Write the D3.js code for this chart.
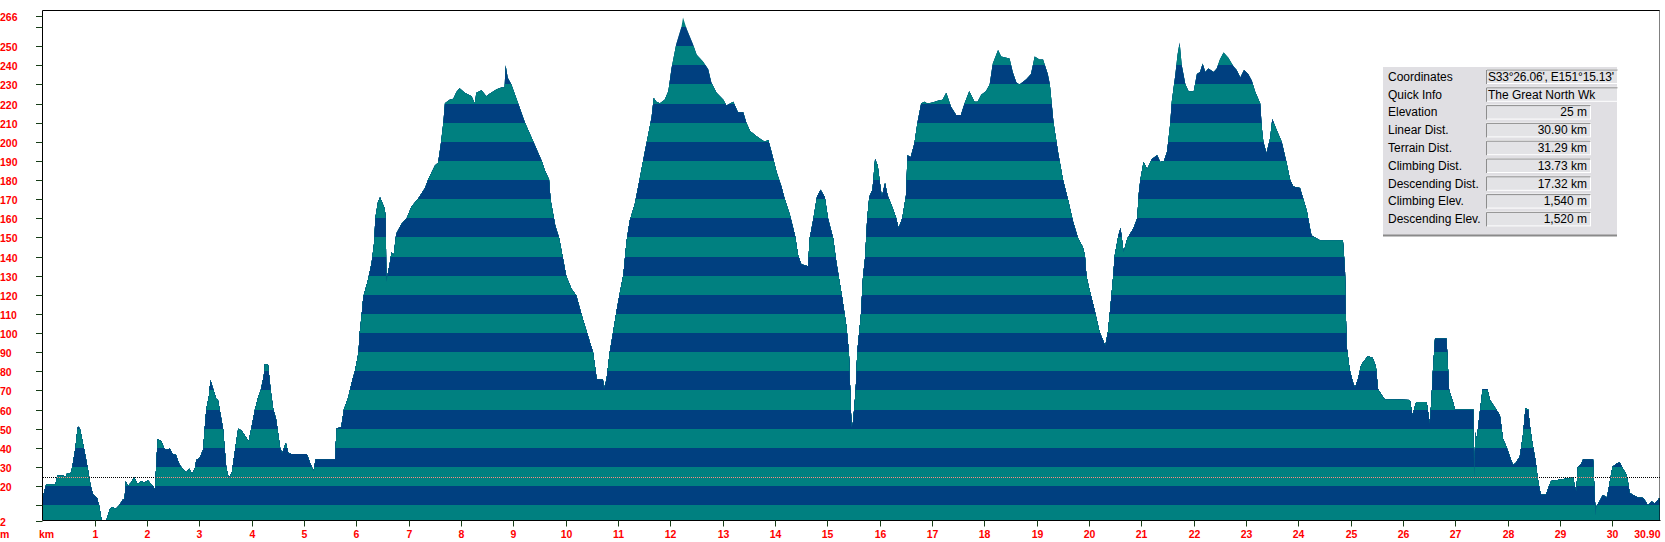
<!DOCTYPE html>
<html>
<head>
<meta charset="utf-8">
<script src="https://cdn.jsdelivr.net/npm/d3@7"></script>
<style>
body { margin: 0; background: #fff; }
svg { display: block; }
.tick-label { font-family: Arial, "Liberation Sans", sans-serif; font-weight: bold; font-size: 10.5px; fill: #ff0000; }
.info text { font-family: "Liberation Sans Narrow", "Arial Narrow", Arial, sans-serif; font-size: 12px; fill: #000; }
</style>
</head>
<body>
<div id="graphic"></div>
<script>
// =========================================
// elevation profile, striped by 10 m bands
// =========================================

// distance along track (km)
var dist = [
	0, 0.01, 0.06, 0.09, 0.25, 0.28, 0.41, 0.44, 0.47, 0.54, 0.57, 0.63, 0.67, 0.69, 0.72, 0.79, 0.86, 0.92, 0.97,
	1.04, 1.08, 1.13, 1.22, 1.29, 1.34, 1.40, 1.47, 1.53, 1.57, 1.59, 1.63, 1.69, 1.75, 1.82, 1.88, 1.95,
	2.01, 2.11, 2.15, 2.20, 2.27, 2.32, 2.36, 2.43, 2.49, 2.55, 2.62, 2.68, 2.75, 2.81, 2.86, 2.91, 2.94,
	3.00, 3.07, 3.10, 3.13, 3.18, 3.21, 3.27, 3.32, 3.35, 3.45, 3.48, 3.51, 3.56, 3.62, 3.67, 3.74, 3.80, 3.87, 3.94, 3.99,
	4.06, 4.12, 4.17, 4.23, 4.25, 4.31, 4.36, 4.41, 4.46, 4.49, 4.54, 4.58, 4.65, 4.70, 4.76,
	5.05, 5.12, 5.18, 5.22, 5.59, 5.62, 5.71, 5.76, 5.84, 5.92, 5.97,
	6.04, 6.06, 6.10, 6.13, 6.22, 6.29, 6.34, 6.36, 6.41, 6.45, 6.54, 6.56, 6.57, 6.64, 6.67, 6.71, 6.76, 6.86, 6.96,
	7.05, 7.18, 7.31, 7.37, 7.50, 7.56, 7.61, 7.66, 7.69, 7.78, 7.85, 7.91, 7.97,
	8.07, 8.20, 8.26, 8.29, 8.39, 8.48, 8.55, 8.68, 8.77, 8.83, 8.85, 8.89, 8.96,
	9.09, 9.22, 9.38, 9.54, 9.60, 9.68, 9.71, 9.80, 9.87,
	10.01, 10.11, 10.20, 10.30, 10.36, 10.43, 10.52, 10.57, 10.59, 10.71, 10.73, 10.78, 10.84, 10.90, 10.97,
	11.03, 11.10, 11.16, 11.22, 11.32, 11.41, 11.51, 11.57, 11.64, 11.68, 11.73, 11.80, 11.89, 11.96,
	12.02, 12.11, 12.21, 12.24, 12.31, 12.43, 12.50, 12.62, 12.72, 12.78, 12.88,
	13.01, 13.07, 13.20, 13.29, 13.39, 13.45, 13.52, 13.64, 13.80, 13.87, 13.93,
	14.03, 14.12, 14.18, 14.28, 14.38, 14.44, 14.50, 14.63, 14.66, 14.73, 14.80, 14.87, 14.95,
	15.01, 15.11, 15.17, 15.27, 15.36, 15.41, 15.46, 15.49, 15.54, 15.57, 15.64, 15.68, 15.72, 15.76, 15.80, 15.86, 15.91, 15.96,
	16.02, 16.04, 16.10, 16.15, 16.24, 16.31, 16.36, 16.43, 16.50, 16.53, 16.59, 16.66, 16.72, 16.79, 16.85, 16.91,
	17.01, 17.11, 17.20, 17.27, 17.36, 17.46, 17.55, 17.62, 17.71, 17.81, 17.87, 17.94,
	18.03, 18.10, 18.16, 18.26, 18.32, 18.48, 18.54, 18.61, 18.67, 18.80, 18.89, 18.96,
	19.05, 19.12, 19.21, 19.25, 19.32, 19.41, 19.50, 19.60, 19.69, 19.79, 19.88, 19.92, 19.95,
	20.01, 20.08, 20.14, 20.20, 20.27, 20.31, 20.36, 20.40, 20.46, 20.49, 20.56, 20.60, 20.66, 20.73, 20.85, 20.92, 20.95, 20.98,
	21.04, 21.11, 21.20, 21.30, 21.36, 21.43, 21.49, 21.55, 21.58, 21.65, 21.69, 21.73, 21.77, 21.84, 21.90,
	22.00, 22.06, 22.12, 22.17, 22.22, 22.28, 22.38, 22.44, 22.50, 22.57, 22.66, 22.76, 22.82, 22.89, 22.96,
	23.04, 23.11, 23.17, 23.27, 23.30, 23.33, 23.39, 23.46, 23.50, 23.58, 23.68, 23.77, 23.84, 23.90,
	24.03, 24.09, 24.16, 24.22, 24.25, 24.35, 24.41, 24.85, 24.89, 24.92, 24.98,
	25.04, 25.08, 25.14, 25.20, 25.33, 25.42, 25.48, 25.52, 25.58, 25.65,
	26.13, 26.18, 26.25, 26.45, 26.51, 26.54, 26.57, 26.61, 26.83, 26.88, 26.96, 26.99,
	27.34, 27.36, 27.38, 27.41, 27.46, 27.52, 27.61, 27.66, 27.72, 27.78, 27.85, 27.91, 27.97,
	28.04, 28.10, 28.15, 28.23, 28.29, 28.34, 28.39, 28.43, 28.48, 28.53, 28.57, 28.61, 28.64, 28.73, 28.79, 28.83,
	29.25, 29.28, 29.31, 29.34, 29.41, 29.44, 29.63, 29.68, 29.69, 29.75, 29.82, 29.89, 29.92,
	30.00, 30.08, 30.14, 30.20, 30.27, 30.30, 30.33, 30.39, 30.49, 30.59, 30.68, 30.75, 30.81, 30.90
];

// elevation (m) at each distance
var elev = [
	5, 14.6, 20, 21, 21, 25.4, 25.4, 24.5, 26.7, 26.7, 30, 40, 50.4, 51, 49.5, 40, 30, 20, 15.5,
	14, 10, 2, 2, 8, 9, 8, 10, 12.7, 13.5, 22.4, 20, 21.8, 24.5, 20.9, 22.7, 21.8,
	23, 20, 18.2, 44.5, 43.5, 40, 39, 39.5, 36.8, 36.3, 31, 29, 27.2, 29, 26.3, 29, 33.6,
	34.5, 39, 50, 60, 67, 75.3, 70, 65.5, 65.5, 50, 40, 30, 24, 27.2, 37, 50, 49, 46.3, 43.5, 50,
	60, 66.3, 70, 78, 83.8, 83.5, 70, 60, 55.5, 50, 40, 37, 42.6, 37, 36.8,
	36.8, 31.7, 27.8, 34, 34, 50, 51, 60, 66, 75.3, 80,
	90, 99.7, 109.7, 118.8, 127.8, 136.8, 147.7, 160, 168.4, 171, 165, 160, 126.9, 137, 142.3, 140.5, 152, 157, 160,
	166, 170.4, 175.8, 180.3, 187.6, 189, 198.4, 210, 220.2, 222, 222.5, 226, 228,
	225.6, 223.8, 220, 225.6, 227, 223.8, 225.3, 227.5, 228.4, 228.4, 240, 233.5, 230,
	220, 210, 200, 190, 185, 180.3, 169.5, 156, 150,
	129.6, 123, 119.6, 109.7, 104.2, 97.9, 90, 80, 76, 75.6, 70.7, 76, 90, 99.7, 111.5,
	120.5, 130.5, 147.7, 158.6, 167.6, 180.3, 194.8, 203, 213, 223, 221, 220.2, 222, 226.5,
	238.3, 251, 260, 265, 259, 251, 245.5, 242, 238, 231, 225.6,
	222, 219, 221, 215.5, 215.5, 210, 205.7, 203, 200, 201, 194.8,
	184, 176.7, 170.4, 162, 151, 140.5, 136, 135, 149.5, 159.5, 171.3, 175, 171,
	160, 149.5, 137, 120.5, 104, 90, 50.8, 53.5, 70, 90, 109.7, 129.6, 139.5, 160, 171.3, 175, 191, 187.7,
	175, 171.3, 178.5, 172, 165.8, 160.4, 155, 160, 171.8, 193, 192, 199, 210, 220, 221, 220,
	220.5, 221.5, 222, 225.6, 218.4, 214, 214, 220, 226.5, 221, 221, 224.6,
	226.5, 230, 241, 248, 244.6, 243.6, 236.5, 231, 230, 232.7, 235.5, 244.6,
	243, 243, 235.5, 230, 210, 194, 180.3, 169.5, 158.6, 149.5, 145, 140.5, 129.6,
	122.4, 115, 107.8, 100.6, 96, 93.4, 100.6, 111.5, 129.6, 140.5, 151, 155, 142.3, 149.5, 155, 160, 173, 180.3,
	189.4, 185.8, 191, 193, 189.4, 190, 194.8, 209.3, 221, 235.5, 245.5, 251.9, 240, 230, 226.5,
	226.5, 235.5, 236.5, 241, 236.5, 238.3, 236.5, 238.3, 243, 246.7, 244, 239.4, 237.5, 233.6, 237.5,
	235.5, 231.9, 226.5, 220, 207.5, 200, 194, 202, 212, 206.5, 200, 189.4, 180.3, 176.7,
	175.8, 170.4, 164, 155, 151, 149.5, 148.6, 148.6, 133, 93.4, 80.7,
	74.4, 71.6, 76, 83.4, 88, 87, 82.5, 70.7, 68, 65.3,
	65, 57, 64, 64, 52.6, 64, 80, 97, 97, 70, 63.5, 60,
	60, 24, 48, 44.5, 57, 70.7, 70.7, 65, 62.5, 60, 57, 44.5, 41,
	35.4, 31, 32, 35.4, 46.3, 60.8, 60, 50, 41, 33.6, 24.5, 18.2, 15.5, 15.5, 20, 22.7,
	24.5, 20, 17.3, 30, 31.8, 34, 34, 4.6, 9, 11.8, 15.5, 13.7, 17.3,
	30, 31.8, 32.3, 29, 26, 21.8, 16.4, 15.5, 14, 13.7, 10, 12, 10.9, 13.7
];

// axis ticks
var yTicks = [2, 10, 20, 30, 40, 50, 60, 70, 80, 90, 100, 110, 120, 130, 140, 150, 160, 170, 180, 190, 200, 210, 220, 230, 240, 250, 260, 266];
var yUnlabelled = [10, 260];
var xTicks = [1, 2, 3, 4, 5, 6, 7, 8, 9, 10, 11, 12, 13, 14, 15, 16, 17, 18, 19, 20, 21, 22, 23, 24, 25, 26, 27, 28, 29, 30];
var totalKm = 30.90;
var markerElev = 25;

// info panel
var infoLabels = ['Coordinates', 'Quick Info', 'Elevation', 'Linear Dist.', 'Terrain Dist.', 'Climbing Dist.', 'Descending Dist.', 'Climbing Elev.', 'Descending Elev.'];
var infoValues = ["S33\u00b026.06', E151\u00b015.13'", 'The Great North Wk', '25 m', '30.90 km', '31.29 km', '13.73 km', '17.32 km', '1,540 m', '1,520 m'];


renderGraphic({
	container: 'graphic',
	width: 1665,
	height: 542
});


function renderGraphic(config) {

	var width = config.width,
		height = config.height;

	var plot = { left: 42.5, right: 1659.5, top: 10.5, bottom: 520.5 };
	var teal = '#008080',
		navy = '#004080',
		tickColor = '#173c17';

	var svg = d3.select('#' + config.container).append('svg')
		.attr('width', width)
		.attr('height', height);

	var x = d3.scaleLinear().domain([0, totalKm]).range([plot.left, plot.right]);
	var y = d3.scaleLinear().domain([2, 266]).range([plot.bottom, 15.6]);

	var profile = dist.map(function(d, i) { return { km: d, m: elev[i] }; });

	var area = d3.area()
		.x(function(d) { return x(d.km); })
		.y0(y(2))
		.y1(function(d) { return y(d.m); });

	// 1. striped fill: 10 m bands clipped by the profile
	svg.append('clipPath').attr('id', 'profile-clip')
		.append('path').attr('d', area(profile));

	// each rect runs from its band top down to the baseline; drawn top band
	// first so lower bands paint over, leaving no seams between stripes
	var bands = d3.range(260, -10, -10);
	svg.append('g')
		.attr('clip-path', 'url(#profile-clip)')
		.attr('shape-rendering', 'crispEdges')
		.selectAll('rect')
		.data(bands).enter()
		.append('rect')
		.attr('x', plot.left)
		.attr('width', plot.right - plot.left)
		.attr('y', function(d) { return Math.round(y(d + 10)); })
		.attr('height', function(d) { return Math.ceil(y(2)) - Math.round(y(d + 10)); })
		.attr('fill', function(d) { return (d / 10) % 2 === 0 ? teal : navy; });

	// 2. current elevation marker (dotted, inverts over the fill)
	var yMark = Math.round(y(markerElev)) + 0.5;
	svg.append('line')
		.attr('x1', plot.left).attr('x2', plot.right)
		.attr('y1', yMark).attr('y2', yMark)
		.attr('stroke', '#000').attr('stroke-dasharray', '1,1')
		.attr('shape-rendering', 'crispEdges');
	svg.append('line')
		.attr('clip-path', 'url(#profile-clip)')
		.attr('x1', plot.left).attr('x2', plot.right)
		.attr('y1', yMark).attr('y2', yMark)
		.attr('stroke', '#ff8c80').attr('stroke-dasharray', '1,1')
		.attr('shape-rendering', 'crispEdges');

	// 3. frame
	svg.append('line')
		.attr('x1', plot.left).attr('x2', plot.right)
		.attr('y1', plot.top).attr('y2', plot.top)
		.attr('stroke', '#000');
	svg.append('line')
		.attr('x1', plot.right).attr('x2', plot.right)
		.attr('y1', plot.top).attr('y2', plot.bottom)
		.attr('stroke', '#000').attr('stroke-dasharray', '1,1');
	svg.append('line')
		.attr('x1', plot.left).attr('x2', plot.left)
		.attr('y1', plot.top).attr('y2', plot.bottom)
		.attr('stroke', '#000');
	svg.append('line')
		.attr('x1', plot.left).attr('x2', plot.right + 1)
		.attr('y1', plot.bottom).attr('y2', plot.bottom)
		.attr('stroke', '#000');

	// 4. y axis
	var yt = svg.append('g').attr('class', 'axis axis-y')
		.selectAll('g.tick')
		.data(yTicks).enter()
		.append('g').attr('class', 'tick')
		.attr('transform', function(d) { return 'translate(0,' + (Math.round(y(d)) + 0.5) + ')'; });

	yt.append('line')
		.attr('x1', 36).attr('x2', plot.left)
		.attr('stroke', tickColor);

	yt.filter(function(d) { return yUnlabelled.indexOf(d) === -1; })
		.append('text')
		.attr('class', 'tick-label')
		.attr('x', 0)
		.attr('dy', '0.38em')
		.text(function(d) { return d; });

	svg.append('text').attr('class', 'tick-label')
		.attr('x', 0).attr('y', 538)
		.text('m');

	// 5. x axis
	var xt = svg.append('g').attr('class', 'axis axis-x')
		.selectAll('g.tick')
		.data(xTicks).enter()
		.append('g').attr('class', 'tick')
		.attr('transform', function(d) { return 'translate(' + (Math.round(x(d)) + 0.5) + ',0)'; });

	xt.append('line')
		.attr('y1', plot.bottom).attr('y2', plot.bottom + 6)
		.attr('stroke', tickColor);

	xt.append('text')
		.attr('class', 'tick-label')
		.attr('text-anchor', 'middle')
		.attr('y', 538)
		.text(function(d) { return d; });

	svg.append('text').attr('class', 'tick-label')
		.attr('x', 39).attr('y', 538)
		.text('km');

	svg.append('text').attr('class', 'tick-label')
		.attr('text-anchor', 'end')
		.attr('x', x(totalKm) + 1).attr('y', 538)
		.text(totalKm.toFixed(2));

	// 6. info panel
	var box = { x: 1383, y: 67, w: 234, h: 169 },
		rowTop = 76.5,
		rowStep = 17.8,
		fieldX = 1486;

	var info = svg.append('g').attr('class', 'info');

	info.append('rect')
		.attr('x', box.x).attr('y', box.y)
		.attr('width', box.w).attr('height', box.h)
		.attr('fill', '#e0dfe3');
	info.append('line')
		.attr('x1', box.x).attr('x2', box.x + box.w)
		.attr('y1', box.y + box.h - 0.5).attr('y2', box.y + box.h - 0.5)
		.attr('stroke', '#8a8a8a').attr('stroke-width', 2);

	var rows = info.selectAll('g.row')
		.data(infoLabels).enter()
		.append('g').attr('class', 'row')
		.attr('transform', function(d, i) { return 'translate(0,' + (rowTop + i * rowStep) + ')'; });

	rows.append('text')
		.attr('x', box.x + 5)
		.attr('dy', '0.35em')
		.text(function(d) { return d; });

	function fieldWidth(i) { return i < 2 ? 131 : 104; }

	rows.append('rect')
		.attr('x', fieldX + 0.5).attr('y', -7)
		.attr('width', function(d, i) { return fieldWidth(i); })
		.attr('height', 14)
		.attr('fill', '#e3e3e6')
		.attr('stroke', '#fff');
	rows.append('path')
		.attr('d', function(d, i) {
			return 'M' + (fieldX + 0.5) + ',7.5V-6.5H' + (fieldX + 0.5 + fieldWidth(i));
		})
		.attr('fill', 'none')
		.attr('stroke', '#8d8d8d');

	rows.append('text')
		.attr('x', function(d, i) { return i < 2 ? fieldX + 2 : fieldX + fieldWidth(i) - 3; })
		.attr('text-anchor', function(d, i) { return i < 2 ? 'start' : 'end'; })
		.attr('dy', '0.35em')
		.attr('textLength', function(d, i) { return i === 0 ? 126 : null; })
		.text(function(d, i) { return infoValues[i]; });

} // end of renderGraphic()
</script>
</body>
</html>
